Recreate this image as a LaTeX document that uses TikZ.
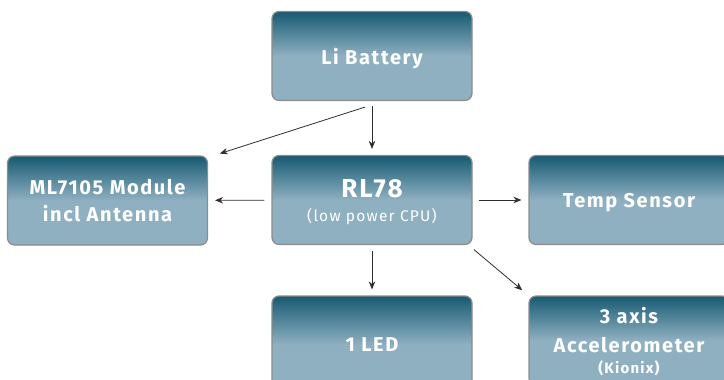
\documentclass[tikz,border=0pt]{standalone}
\usepackage{fontspec}
\setsansfont[LetterSpace=8]{Fira Sans}
\usetikzlibrary{arrows.meta}

\definecolor{boxtop}{HTML}{175A72}
\definecolor{boxbot}{HTML}{8FB0C1}
\definecolor{boxline}{HTML}{8C8C8C}
\definecolor{arrline}{HTML}{2E2E2E}

\tikzset{
  blockbox/.style={draw=boxline, line width=1.2pt, rounded corners=7pt,
    minimum width=200pt, minimum height=89pt, align=center,
    top color=boxtop, bottom color=boxbot, middle color=boxbot,
    text=white, text depth=0pt,
    font=\sffamily\bfseries\fontsize{20}{27}\selectfont},
  conn/.style={-{Stealth[length=8pt,width=6.5pt]}, draw=arrline, line width=0.8pt}
}

\begin{document}
\begin{tikzpicture}[x=1pt, y=-1pt]
    \useasboundingbox (0,0) rectangle (724,380);
    \clip (0,0) rectangle (724,380);

    % Blocks
    \node[blockbox] (bat) at (372, 56) {Li Battery};
    \node[blockbox] (ml) at (107.5, 200.5) {ML7105 Module\\incl Antenna};
    \node[blockbox] (cpu) at (372, 200)
        {{\fontsize{26}{26}\selectfont RL78}\\[-3pt]{\mdseries\fontsize{15.5}{16}\selectfont (low power CPU)}};
    \node[blockbox] (temp) at (629, 200) {Temp Sensor};
    \node[blockbox, minimum height=98pt] (led) at (372, 345) {1 LED};
    \node[blockbox] (acc) at (629, 340.5)
        {3 axis\\[2pt]Accelerometer\\[-6pt]{\fontsize{15}{16}\selectfont (Kionix)}};

    % Connectors
    \draw[conn, shorten <=5pt, shorten >=6pt] (bat) -- (cpu);
    \draw[conn, shorten >=6pt] ([xshift=-7pt, yshift=-6pt]bat.south) -- ([xshift=6pt]ml.north east);
    \draw[conn, shorten <=7pt, shorten >=7pt] (cpu) -- (ml);
    \draw[conn, shorten <=6pt, shorten >=7pt] (cpu) -- (temp);
    \draw[conn, shorten <=6pt, shorten >=6pt] (cpu) -- (led);
    \draw[conn, shorten <=7pt, shorten >=8pt] ([xshift=-4pt]cpu.south east) -- (acc.north west);
\end{tikzpicture}
\end{document}
